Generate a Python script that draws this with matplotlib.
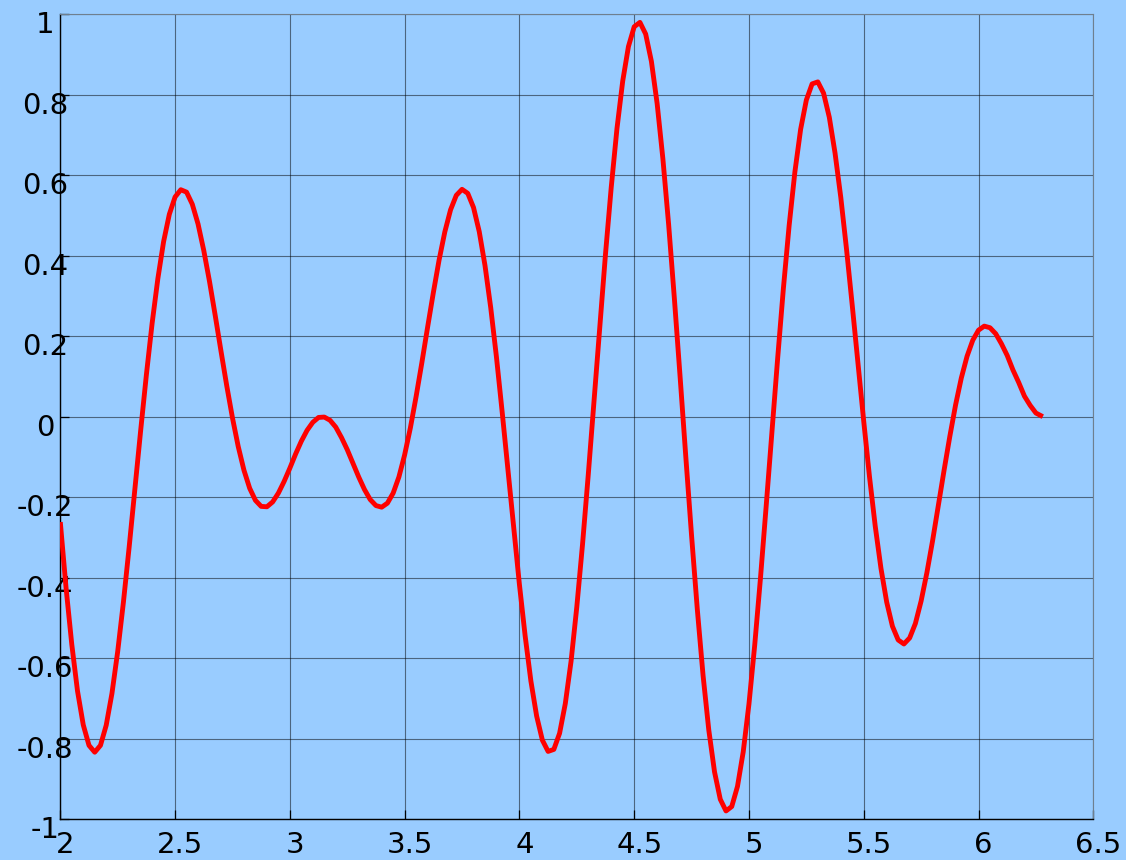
import matplotlib
matplotlib.use("Agg")
import matplotlib.pyplot as plt
from matplotlib.transforms import ScaledTranslation

# Sampled signal
x_vals = [2.000, 2.025, 2.050, 2.075, 2.100, 2.125, 2.150, 2.175, 2.200, 2.225,
          2.250, 2.275, 2.300, 2.325, 2.350, 2.375, 2.400, 2.425, 2.450, 2.475,
          2.500, 2.525, 2.550, 2.575, 2.600, 2.625, 2.650, 2.675, 2.700, 2.725,
          2.750, 2.775, 2.800, 2.825, 2.850, 2.875, 2.900, 2.925, 2.950, 2.975,
          3.000, 3.025, 3.050, 3.075, 3.100, 3.125, 3.150, 3.175, 3.200, 3.225,
          3.250, 3.275, 3.300, 3.325, 3.350, 3.375, 3.400, 3.425, 3.450, 3.475,
          3.500, 3.525, 3.550, 3.575, 3.600, 3.625, 3.650, 3.675, 3.700, 3.725,
          3.750, 3.775, 3.800, 3.825, 3.850, 3.875, 3.900, 3.925, 3.950, 3.975,
          4.000, 4.025, 4.050, 4.075, 4.100, 4.125, 4.150, 4.175, 4.200, 4.225,
          4.250, 4.275, 4.300, 4.325, 4.350, 4.375, 4.400, 4.425, 4.450, 4.475,
          4.500, 4.525, 4.550, 4.575, 4.600, 4.625, 4.650, 4.675, 4.700, 4.725,
          4.750, 4.775, 4.800, 4.825, 4.850, 4.875, 4.900, 4.925, 4.950, 4.975,
          5.000, 5.025, 5.050, 5.075, 5.100, 5.125, 5.150, 5.175, 5.200, 5.225,
          5.250, 5.275, 5.300, 5.325, 5.350, 5.375, 5.400, 5.425, 5.450, 5.475,
          5.500, 5.525, 5.550, 5.575, 5.600, 5.625, 5.650, 5.675, 5.700, 5.725,
          5.750, 5.775, 5.800, 5.825, 5.850, 5.875, 5.900, 5.925, 5.950, 5.975,
          6.000, 6.025, 6.050, 6.075, 6.100, 6.125, 6.150, 6.175, 6.200, 6.225,
          6.250, 6.280]
y_vals = [-0.262, -0.425, -0.566, -0.682, -0.766, -0.817, -0.834, -0.817, -0.767, -0.688,
          -0.584, -0.461, -0.324, -0.180, -0.035, 0.104, 0.232, 0.343, 0.435, 0.503,
          0.546, 0.564, 0.558, 0.528, 0.479, 0.413, 0.336, 0.251, 0.163, 0.077,
          -0.003, -0.074, -0.133, -0.178, -0.208, -0.223, -0.224, -0.212, -0.190, -0.161,
          -0.128, -0.093, -0.061, -0.034, -0.014, -0.002, -0.001, -0.009, -0.026, -0.052,
          -0.082, -0.116, -0.150, -0.181, -0.206, -0.221, -0.225, -0.215, -0.190, -0.150,
          -0.095, -0.028, 0.050, 0.134, 0.222, 0.308, 0.389, 0.459, 0.514, 0.550,
          0.565, 0.555, 0.520, 0.460, 0.376, 0.271, 0.148, 0.011, -0.132, -0.277,
          -0.417, -0.545, -0.657, -0.744, -0.804, -0.832, -0.827, -0.787, -0.713, -0.608,
          -0.473, -0.317, -0.144, 0.039, 0.224, 0.404, 0.570, 0.716, 0.834, 0.920,
          0.969, 0.980, 0.951, 0.883, 0.778, 0.641, 0.478, 0.294, 0.099, -0.101,
          -0.296, -0.479, -0.643, -0.779, -0.883, -0.951, -0.980, -0.969, -0.919, -0.833,
          -0.714, -0.568, -0.402, -0.222, -0.038, 0.145, 0.319, 0.475, 0.608, 0.714,
          0.787, 0.827, 0.832, 0.804, 0.744, 0.655, 0.545, 0.416, 0.276, 0.131,
          -0.012, -0.149, -0.272, -0.377, -0.461, -0.521, -0.555, -0.565, -0.550, -0.514,
          -0.458, -0.388, -0.308, -0.221, -0.133, -0.049, 0.029, 0.096, 0.150, 0.190,
          0.215, 0.225, 0.221, 0.206, 0.181, 0.152, 0.116, 0.085, 0.051, 0.028,
          0.009, 0.000]

x_ticks = [2, 2.5, 3, 3.5, 4, 4.5, 5, 5.5, 6, 6.5]
x_ticklabels = ["2", "2.5", "3", "3.5", "4", "4.5", "5", "5.5", "6", "6.5"]
y_ticks = [-1, -0.8, -0.6, -0.4, -0.2, 0, 0.2, 0.4, 0.6, 0.8, 1]
y_ticklabels = ["-1", "-0.8", "-0.6", "-0.4", "-0.2", "0", "0.2", "0.4", "0.6", "0.8", "1"]

BG = "#99CCFF"
DPI = 100

fig = plt.figure(figsize=(11.26, 8.6), dpi=DPI, facecolor=BG)
ax = fig.add_axes([0.05355, 0.04767, 0.91741, 0.9357], facecolor=BG)

ax.plot(x_vals, y_vals, color="#FF0000", lw=3.5, solid_joinstyle="round",
        solid_capstyle="butt", zorder=3)

ax.set_xlim(2, 6.5)
ax.set_ylim(-1, 1)
ax.set_xticks(x_ticks)
ax.set_xticklabels(x_ticklabels)
ax.set_yticks(y_ticks)
ax.set_yticklabels(y_ticklabels)

ax.grid(True, color="black", alpha=0.5, lw=0.8)

for side in ("left", "bottom"):
    ax.spines[side].set_color("black")
    ax.spines[side].set_linewidth(1.0)
for side in ("top", "right"):
    ax.spines[side].set_color("#6f7f8f")
    ax.spines[side].set_linewidth(0.8)

ax.tick_params(axis="both", direction="in", length=6.5, width=0.9, color="black",
               labelsize=21, labelcolor="black", top=False, right=False)

# Tick labels: centred on their ticks and nudged off the axis lines
ytrans = ax.get_yaxis_transform() + ScaledTranslation(-15 / DPI, -19 / DPI, fig.dpi_scale_trans)
for t in ax.yaxis.get_major_ticks():
    t.label1.set_transform(ytrans)
    t.label1.set_horizontalalignment("center")
    t.label1.set_verticalalignment("baseline")

xtrans = ax.get_xaxis_transform() + ScaledTranslation(5 / DPI, -34 / DPI, fig.dpi_scale_trans)
for t in ax.xaxis.get_major_ticks():
    t.label1.set_transform(xtrans)
    t.label1.set_horizontalalignment("center")
    t.label1.set_verticalalignment("baseline")

fig.savefig("out.png", dpi=DPI, facecolor=BG)
